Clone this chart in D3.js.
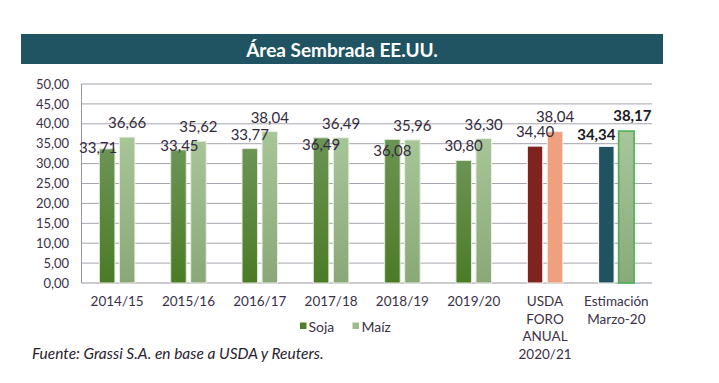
<!DOCTYPE html>
<html><head><meta charset="utf-8">
<script src="https://cdn.jsdelivr.net/npm/d3@7"></script>
<style>body{margin:0;background:#fff;} svg{display:block;font-family:Lato,"Open Sans",sans-serif;}</style>
</head><body>
<svg id="c" width="719" height="383"></svg>
<script>
const categories = ["2014/15","2015/16","2016/17","2017/18","2018/19","2019/20","USDA FORO ANUAL 2020/21","Estimación Marzo-20"];
const categoryLines = [["2014/15"],["2015/16"],["2016/17"],["2017/18"],["2018/19"],["2019/20"],["USDA","FORO","ANUAL","2020/21"],["Estimación","Marzo-20"]];
const seriesNames = ["Soja","Maíz"];
const soja = [33.71,33.45,33.77,36.49,36.08,30.80,34.40,34.34];
const maiz = [36.66,35.62,38.04,36.49,35.96,36.30,38.04,38.17];
const yTicks = [0,5,10,15,20,25,30,35,40,45,50];
const title = "Área Sembrada EE.UU.";
const source = "Fuente: Grassi S.A. en base a USDA y Reuters.";

// label nudges (manual placement as in original), [dx, dy from bar top to text center]
const sojaNudge = [[-9,-2],[1,-5],[0,-15],[0,6],[0,11],[0,-15],[0,-15],[-10,-12]];
const maizNudge = [[0,-15],[0,-15],[0,-15],[0,-15],[0,-15],[0,-15],[0,-16],[6,-16]];

const svg = d3.select("#c");
const defs = svg.append("defs");
function grad(id, c1, c2){
  const g = defs.append("linearGradient").attr("id",id).attr("x1",0).attr("y1",0).attr("x2",0).attr("y2",1);
  g.append("stop").attr("offset","0%").attr("stop-color",c1);
  g.append("stop").attr("offset","100%").attr("stop-color",c2);
}
grad("gSoja","#6c9455","#4b7b25");
grad("gMaiz","#a7c597","#8aa877");
grad("gMaizE","#a9c69a","#8ca97a");

// title bar
svg.append("rect").attr("x",21).attr("y",34).attr("width",642).attr("height",30).attr("fill","#215462");
svg.append("text").attr("x",342).attr("y",49).attr("text-anchor","middle").attr("dominant-baseline","central")
  .attr("fill","#fff").attr("font-weight","bold").attr("font-size",19).text(title);

const pLeft=81.5, pRight=652, pTop=84, pBottom=283;
const x = d3.scaleBand().domain(categories).range([pLeft,pRight]).padding(0);
const x1 = d3.scaleBand().domain(seriesNames).range([0,35.5]).paddingInner(0.225);
const y = d3.scaleLinear().domain([0,50]).range([pBottom,pTop]);

const txt = "#3b3146";
// gridlines
svg.append("g").selectAll("line").data(yTicks).join("line")
  .attr("x1",pLeft).attr("x2",pRight).attr("y1",d=>y(d)).attr("y2",d=>y(d))
  .attr("stroke",d=>d===0?"#9a94a2":"#a8a3ae").attr("stroke-width",1);
svg.append("line").attr("x1",pLeft).attr("x2",pLeft).attr("y1",pTop).attr("y2",pBottom).attr("stroke","#9a94a2");

// y axis labels
const yAxis = d3.axisLeft(y).tickValues(yTicks).tickSize(0).tickPadding(0)
  .tickFormat(d=>d3.format(".2f")(d).replace(".",","));
const ya = svg.append("g").attr("transform",`translate(69,0)`).call(yAxis);
ya.select(".domain").remove();
ya.selectAll("text").attr("font-size",13).attr("fill",txt).attr("font-family","Lato,sans-serif");

// bars
const colors = {
  soja: (i)=> i===6 ? "#7f231e" : i===7 ? "#215262" : "url(#gSoja)",
  maiz: (i)=> i===6 ? "#f0a07f" : i===7 ? "url(#gMaizE)" : "url(#gMaiz)"
};
const groups = svg.append("g").selectAll("g").data(categories).join("g")
  .attr("transform",d=>`translate(${x(d)+x.bandwidth()/2-17.75},0)`);
groups.append("rect")
  .attr("x",x1("Soja")).attr("width",x1.bandwidth())
  .attr("y",(d,i)=>y(soja[i])).attr("height",(d,i)=>y(0)-y(soja[i]))
  .attr("fill",(d,i)=>colors.soja(i))
  .attr("stroke",(d,i)=> i>=6 ? "#ffffff" : "#dfe9d8").attr("stroke-width",1);
groups.append("rect")
  .attr("x",x1("Maíz")).attr("width",x1.bandwidth())
  .attr("y",(d,i)=>y(maiz[i])).attr("height",(d,i)=>y(0)-y(maiz[i]))
  .attr("fill",(d,i)=>colors.maiz(i))
  .attr("stroke",(d,i)=> i===7 ? "#4cb156" : "#e9f0e4").attr("stroke-width",(d,i)=>i===7?1.6:1);

const fmt = v => d3.format(".2f")(v).replace(".",",");
groups.append("text")
  .attr("x",(d,i)=>x1("Soja")+x1.bandwidth()/2+sojaNudge[i][0])
  .attr("y",(d,i)=>y(soja[i])+sojaNudge[i][1])
  .attr("text-anchor","middle").attr("dominant-baseline","central")
  .attr("font-size",15).attr("fill",(d,i)=>i===7?"#1d1a24":"#332a3c").attr("font-weight",(d,i)=>i===7?"bold":"normal")
  .text((d,i)=>fmt(soja[i]));
groups.append("text")
  .attr("x",(d,i)=>x1("Maíz")+x1.bandwidth()/2+maizNudge[i][0])
  .attr("y",(d,i)=>y(maiz[i])+maizNudge[i][1])
  .attr("text-anchor","middle").attr("dominant-baseline","central")
  .attr("font-size",15).attr("fill",(d,i)=>i===7?"#1d1a24":"#332a3c").attr("font-weight",(d,i)=>i===7?"bold":"normal")
  .text((d,i)=>fmt(maiz[i]));

// x labels
const xl = svg.append("g").selectAll("text").data(categories).join("text")
  .attr("x",d=>x(d)+x.bandwidth()/2).attr("text-anchor","middle")
  .attr("font-size",13.5).attr("fill",txt);
xl.each(function(d,i){
  const t = d3.select(this);
  categoryLines[i].forEach((ln,j)=>{
    t.append("tspan").attr("x",x(d)+x.bandwidth()/2).attr("y",306+j*17.5).text(ln);
  });
});

// legend
const leg = svg.append("g");
leg.append("rect").attr("x",300).attr("y",322.5).attr("width",6.5).attr("height",6.5).attr("fill","#4f7e2a");
leg.append("text").attr("x",308.5).attr("y",326).attr("dominant-baseline","central").attr("font-size",14).attr("fill",txt).text(seriesNames[0]);
leg.append("rect").attr("x",352.5).attr("y",322.5).attr("width",6.5).attr("height",6.5).attr("fill","#9dbb8c");
leg.append("text").attr("x",361.5).attr("y",326).attr("dominant-baseline","central").attr("font-size",14).attr("fill",txt).text(seriesNames[1]);

// source
svg.append("text").attr("x",32).attr("y",353).attr("dominant-baseline","central")
  .attr("font-size",15.5).attr("font-style","italic").attr("fill","#2a2230").text(source);
</script>
</body></html>
